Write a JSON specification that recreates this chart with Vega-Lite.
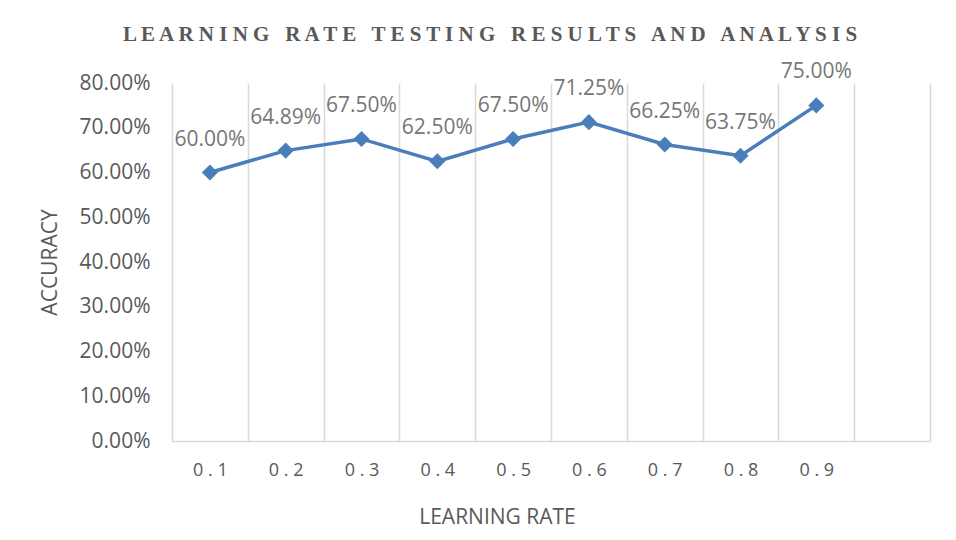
{
  "$schema": "https://vega.github.io/schema/vega-lite/v6.json",
  "autosize": {"type": "none"},
  "width": 758,
  "height": 358,
  "padding": {"left": 172, "top": 83, "right": 26, "bottom": 99},
  "background": "white",
  "config": {"view": {"stroke": null}, "font": "Open Sans"},
  "title": {
    "text": "L E A R N I N G \u00a0 R A T E \u00a0 T E S T I N G \u00a0 R E S U L T S \u00a0 A N D \u00a0 A N A L Y S I S",
    "font": "Liberation Serif",
    "fontWeight": "bold",
    "fontSize": 21,
    "color": "#595959",
    "anchor": "middle",
    "frame": "group",
    "dx": -61,
    "offset": 16
  },
  "data": {
    "values": [
      {"rate": "0.1", "accuracy": 0.6},
      {"rate": "0.2", "accuracy": 0.6489},
      {"rate": "0.3", "accuracy": 0.675},
      {"rate": "0.4", "accuracy": 0.625},
      {"rate": "0.5", "accuracy": 0.675},
      {"rate": "0.6", "accuracy": 0.7125},
      {"rate": "0.7", "accuracy": 0.6625},
      {"rate": "0.8", "accuracy": 0.6375},
      {"rate": "0.9", "accuracy": 0.75}
    ]
  },
  "encoding": {
    "x": {
      "field": "rate",
      "type": "ordinal",
      "bandPosition": 0.5,
      "scale": {"type": "band", "domain": ["0.1","0.2","0.3","0.4","0.5","0.6","0.7","0.8","0.9",""], "paddingInner": 0, "paddingOuter": 0},
      "axis": {
        "title": "LEARNING RATE",
        "titleFont": "Open Sans",
        "titleFontWeight": "normal",
        "titleFontSize": 21,
        "titleColor": "#595959",
        "titleX": 325,
        "titleY": 76,
        "titleAlign": "center",
        "titleBaseline": "middle",
        "labelExpr": "join(split(datum.label, ''), ' ')",
        "labelAngle": 0,
        "labelFontSize": 18,
        "labelColor": "#595959",
        "labelPadding": 20,
        "ticks": false,
        "tickBand": "extent",
        "grid": true,
        "gridColor": "#d9d9d9",
        "gridWidth": 1.5,
        "domainColor": "#d9d9d9",
        "domainWidth": 1.5
      }
    },
    "y": {
      "field": "accuracy",
      "type": "quantitative",
      "scale": {"domain": [0, 0.8]},
      "axis": {
        "title": "ACCURACY",
        "titleFont": "Open Sans",
        "titleFontWeight": "normal",
        "titleFontSize": 21,
        "titleColor": "#595959",
        "titleAngle": -90,
        "titleX": -122,
        "titleY": 179,
        "titleAlign": "center",
        "titleBaseline": "middle",
        "values": [0, 0.1, 0.2, 0.3, 0.4, 0.5, 0.6, 0.7, 0.8],
        "format": ".2%",
        "labelFontSize": 21,
        "labelColor": "#595959",
        "labelPadding": 22,
        "ticks": false,
        "domain": false,
        "grid": false
      }
    }
  },
  "layer": [
    {
      "mark": {"type": "line", "color": "#4a7ebb", "strokeWidth": 3.5}
    },
    {
      "mark": {"type": "point", "shape": "diamond", "filled": true, "size": 260, "color": "#4a7ebb", "opacity": 1}
    },
    {
      "mark": {"type": "text", "fontSize": 21, "color": "#767676", "dy": -33, "baseline": "middle"},
      "encoding": {"text": {"field": "accuracy", "type": "quantitative", "format": ".2%"}}
    }
  ]
}
